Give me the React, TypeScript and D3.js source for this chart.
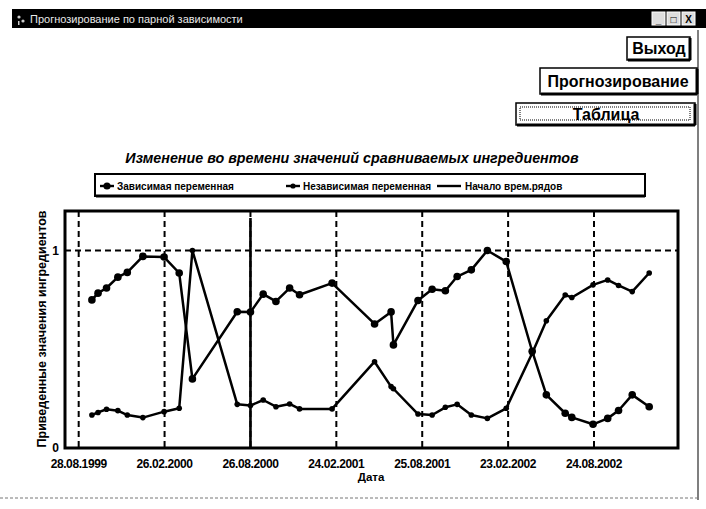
import React from 'react';
import * as d3 from 'd3';

const dates = [
  '1999-09-25','1999-10-08','1999-10-26','1999-11-19','1999-12-09','2000-01-11','2000-02-25','2000-03-28',
  '2000-04-25','2000-07-29','2000-08-26','2000-09-22','2000-10-19','2000-11-17','2000-12-08','2001-02-15',
  '2001-05-16','2001-06-20','2001-06-25','2001-08-16','2001-09-15','2001-10-13','2001-11-07','2001-12-07',
  '2002-01-10','2002-02-19','2002-04-15','2002-05-15','2002-06-24','2002-07-08','2002-08-22','2002-09-22',
  '2002-10-15','2002-11-13','2002-12-19'
];
const dependent = [
  0.75,0.784,0.81,0.865,0.889,0.97,0.967,0.886,
  0.35,0.69,0.688,0.779,0.742,0.81,0.776,0.835,
  0.628,0.689,0.522,0.747,0.804,0.796,0.868,0.902,
  1.0,0.944,0.49,0.269,0.176,0.155,0.12,0.15,
  0.19,0.269,0.209
];
const independent = [
  0.167,0.18,0.196,0.189,0.167,0.154,0.184,0.201,
  1.0,0.221,0.215,0.243,0.209,0.223,0.198,0.198,
  0.437,0.311,0.30,0.172,0.167,0.206,0.221,0.167,
  0.15,0.201,0.48,0.644,0.775,0.762,0.826,0.851,
  0.823,0.792,0.886
];
const tickDates = ['1999-08-28','2000-02-26','2000-08-26','2001-02-24','2001-08-25','2002-02-23','2002-08-24'];
const tickLabels = ['28.08.1999','26.02.2000','26.08.2000','24.02.2001','25.08.2001','23.02.2002','24.08.2002'];
const startDate = '2000-08-26';
const yTicks = [0, 1];
const domainDates = ['1999-07-30', '2003-02-18'];
const yDomain = [0, 1.2];

const windowTitle = 'Прогнозирование по парной зависимости';
const chartTitle = 'Изменение во времени значений сравниваемых ингредиентов';
const legendLabels = ['Зависимая переменная', 'Независимая переменная', 'Начало врем.рядов'];
const xTitle = 'Дата';
const yTitle = 'Приведенные значения ингредиентов';
const buttonLabels = ['Выход', 'Прогнозирование', 'Таблица'];

const parse = d3.utcParse('%Y-%m-%d');
const FONT = '"Liberation Sans", Arial, sans-serif';

export default function App() {
  const L = 65, R = 678, T = 211, B = 448;
  const x = d3.scaleUtc().domain(domainDates.map(d => parse(d) as Date)).range([L, R]);
  const y = d3.scaleLinear().domain(yDomain).range([B, T]);
  const pts = dates.map((d, i) => ({ d: parse(d) as Date, dep: dependent[i], ind: independent[i] }));
  const lineDep = d3.line<any>().x(p => x(p.d)).y(p => y(p.dep));
  const lineInd = d3.line<any>().x(p => x(p.d)).y(p => y(p.ind));
  const xs = x(parse(startDate) as Date);

  const btn = (bx: number, by: number, bw: number, bh: number, label: string, tx: number, focus = false) => (
    <g key={label}>
      <rect x={bx} y={by} width={bw} height={bh} fill="#fff" stroke="#000" strokeWidth={1.5} />
      <line x1={bx + 1} y1={by + bh} x2={bx + bw} y2={by + bh} stroke="#000" strokeWidth={3} />
      <line x1={bx + bw} y1={by + 1} x2={bx + bw} y2={by + bh} stroke="#000" strokeWidth={3} />
      {focus && <rect x={bx + 4} y={by + 4} width={bw - 9} height={bh - 9} fill="none" stroke="#000" strokeWidth={1} strokeDasharray="1,1" />}
      <text x={tx} y={by + bh / 2 + 5.5} textAnchor="middle" fontFamily={FONT} fontWeight="bold" fontSize={16}>{label}</text>
    </g>
  );

  return (
    <svg width={706} height={509} style={{ position: 'absolute', left: 0, top: 0, background: '#fff' }}>
      {/* window title bar */}
      <rect x={12} y={9} width={694} height={19} fill="#000" />
      <g fill="#ccc">
        <circle cx={19} cy={17} r={1.6} />
        <circle cx={23} cy={21} r={1.6} />
        <rect x={18} y={21} width={1.5} height={4} />
      </g>
      <text x={30} y={22.5} fill="#e8e8e8" fontFamily={FONT} fontSize={11}>{windowTitle}</text>
      {[652, 667, 682].map((bx, i) => (
        <g key={i}>
          <rect x={bx} y={12} width={13} height={13} fill="#ddd" stroke="#fff" strokeWidth={1} />
          <text x={bx + 6.5} y={22.5} textAnchor="middle" fontFamily={FONT} fontWeight="bold" fontSize={10}>{['_', '□', 'X'][i]}</text>
        </g>
      ))}
      {/* window borders */}
      <line x1={698} y1={30} x2={698} y2={500} stroke="#555" strokeWidth={1.5} />
      <line x1={0} y1={498} x2={698} y2={498} stroke="#777" strokeWidth={1} strokeDasharray="3,2" />

      {/* buttons */}
      {btn(627, 37, 63, 23, buttonLabels[0], 659)}
      {btn(540, 68, 157, 26, buttonLabels[1], 618)}
      {btn(516, 103, 179, 22, buttonLabels[2], 606, true)}

      {/* chart title */}
      <text x={352} y={163} textAnchor="middle" fontFamily={FONT} fontWeight="bold" fontStyle="italic" fontSize={14.3}>{chartTitle}</text>

      {/* legend */}
      <rect x={95} y={174} width={550} height={22} fill="#fff" stroke="#000" strokeWidth={2} />
      <line x1={96} y1={196} x2={645} y2={196} stroke="#000" strokeWidth={3} />
      <g fontFamily={FONT} fontWeight="bold" fontSize={10}>
        <line x1={100} y1={186} x2={114} y2={186} stroke="#000" strokeWidth={2.4} />
        <circle cx={107} cy={186} r={3.6} fill="#000" />
        <text x={117} y={189.5}>{legendLabels[0]}</text>
        <line x1={286} y1={186} x2={300} y2={186} stroke="#000" strokeWidth={2.4} />
        <circle cx={293} cy={186} r={2.6} fill="#000" />
        <text x={303} y={189.5}>{legendLabels[1]}</text>
        <line x1={437} y1={186} x2={461} y2={186} stroke="#000" strokeWidth={2.4} />
        <text x={465} y={189.5}>{legendLabels[2]}</text>
      </g>

      {/* plot */}
      <rect x={L} y={T} width={R - L} height={B - T} fill="#fff" />
      {tickDates.map((d) => (
        <line key={d} x1={x(parse(d) as Date)} y1={T} x2={x(parse(d) as Date)} y2={B} stroke="#000" strokeWidth={2} strokeDasharray="6,4" />
      ))}
      <line x1={L} y1={y(1)} x2={R} y2={y(1)} stroke="#000" strokeWidth={2} strokeDasharray="6,4" />
      <line x1={xs} y1={T + 7} x2={xs} y2={B} stroke="#000" strokeWidth={2.6} />

      <path d={lineInd(pts) || ''} fill="none" stroke="#000" strokeWidth={2.5} strokeLinejoin="round" />
      <path d={lineDep(pts) || ''} fill="none" stroke="#000" strokeWidth={2.5} strokeLinejoin="round" />
      {pts.map((p, i) => <circle key={'i' + i} cx={x(p.d)} cy={y(p.ind)} r={2.8} fill="#000" />)}
      {pts.map((p, i) => <circle key={'d' + i} cx={x(p.d)} cy={y(p.dep)} r={3.8} fill="#000" />)}

      <rect x={L} y={T} width={R - L} height={B - T} fill="none" stroke="#000" strokeWidth={3} />

      {/* y ticks */}
      {yTicks.map(t => (
        <text key={t} x={59} y={y(t) + 4} textAnchor="end" fontFamily={FONT} fontWeight="bold" fontSize={12}>{t}</text>
      ))}
      {/* x ticks */}
      {tickDates.map((d, i) => (
        <text key={d} x={x(parse(d) as Date)} y={468} textAnchor="middle" fontFamily={FONT} fontWeight="bold" fontSize={12} letterSpacing={-0.4}>{tickLabels[i]}</text>
      ))}
      <text x={371} y={481} textAnchor="middle" fontFamily={FONT} fontWeight="bold" fontSize={11.5}>{xTitle}</text>
      <text transform={`translate(46,${(210 + B) / 2}) rotate(-90)`} textAnchor="middle" fontFamily={FONT} fontWeight="bold" fontSize={12.5}>{yTitle}</text>
    </svg>
  );
}
